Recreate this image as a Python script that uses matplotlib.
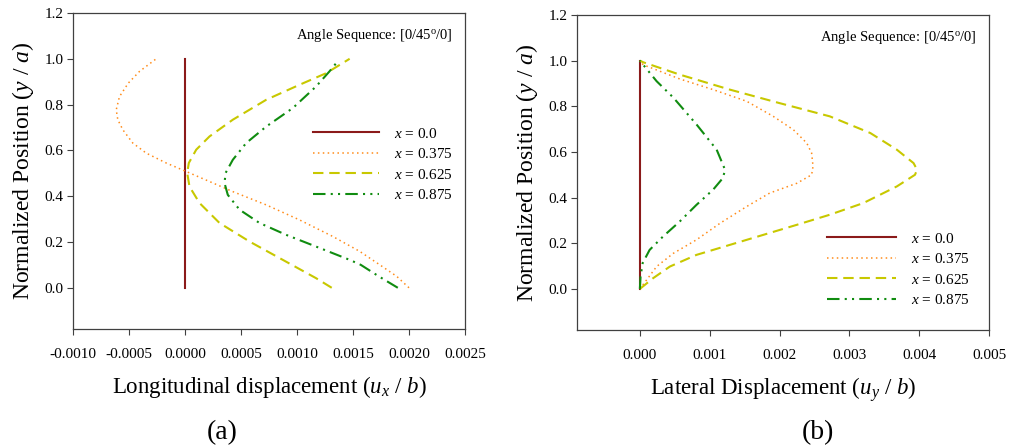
import matplotlib
matplotlib.use("Agg")
import matplotlib.pyplot as plt
import numpy as np

plt.rcParams['font.family'] = ['Liberation Serif', 'DejaVu Serif']
plt.rcParams['mathtext.fontset'] = 'custom'
plt.rcParams['mathtext.rm'] = 'Liberation Serif'
plt.rcParams['mathtext.it'] = 'Liberation Serif:italic'

# ---------------- data ----------------
series_labels = [r'$x$ = 0.0', r'$x$ = 0.375', r'$x$ = 0.625', r'$x$ = 0.875']

# panel (a): longitudinal displacement
a_y0 = [0.0, 1.0]
a_x0 = [0.0, 0.0]

a_y1 = [0.0, 0.05, 0.1, 0.159, 0.224, 0.297, 0.362, 0.42, 0.464, 0.508, 0.545, 0.588,
        0.632, 0.69, 0.734, 0.777, 0.835, 0.894, 0.945, 1.0]
a_x1 = [0.0020, 0.00189, 0.00174, 0.00156, 0.00132, 0.00102, 0.000725, 0.000427,
        0.000219, 0.00001, -0.000168, -0.000346, -0.000466, -0.000555, -0.0006,
        -0.000614, -0.000585, -0.000506, -0.000406, -0.000257]

a_y2 = [0.0, 0.042, 0.122, 0.202, 0.283, 0.37, 0.442, 0.501, 0.545, 0.603, 0.661,
        0.734, 0.821, 0.886, 0.937, 1.0]
a_x2 = [0.00131, 0.00117, 0.000873, 0.000576, 0.000308, 0.00013, 0.00004, 0.00002,
        0.000034, 0.0001, 0.000219, 0.000427, 0.000725, 0.00102, 0.00126, 0.00147]

a_y3 = [0.0, 0.05, 0.1, 0.122, 0.18, 0.231, 0.283, 0.341, 0.406, 0.457, 0.501, 0.559,
        0.632, 0.704, 0.785, 0.879, 0.945, 0.984]
a_x3 = [0.0019, 0.00173, 0.00157, 0.00147, 0.00117, 0.000904, 0.000665, 0.000487,
        0.000382, 0.000353, 0.000362, 0.000427, 0.000546, 0.000725, 0.000963,
        0.00117, 0.00129, 0.001355]

# panel (b): lateral displacement
b_y0 = [0.0, 1.0]
b_x0 = [0.0, 0.0]

b_y1 = [0.0, 0.039, 0.098, 0.156, 0.215, 0.288, 0.361, 0.42, 0.463, 0.5, 0.537, 0.595,
        0.639, 0.697, 0.756, 0.822, 0.873, 0.92, 0.982, 1.0]
b_x1 = [0.0, 0.000096, 0.00024, 0.00048, 0.00081, 0.00115, 0.00153, 0.00186, 0.00225,
        0.00246, 0.00248, 0.00246, 0.00239, 0.0022, 0.00191, 0.00153, 0.00105, 0.00057,
        0.000048, 0.0]

b_y2 = [0.0, 0.047, 0.098, 0.149, 0.193, 0.237, 0.281, 0.325, 0.376, 0.449, 0.5, 0.522,
        0.551, 0.61, 0.683, 0.756, 0.814, 0.873, 0.939, 0.993, 1.0]
b_x2 = [0.0, 0.00019, 0.00043, 0.00081, 0.00129, 0.00177, 0.00225, 0.00272, 0.0032,
        0.00368, 0.00394, 0.00397, 0.00392, 0.00368, 0.0033, 0.00272, 0.002, 0.00129,
        0.00057, 0.000048, 0.0]

b_y3 = [0.0, 0.054, 0.113, 0.171, 0.229, 0.295, 0.368, 0.435, 0.486, 0.522, 0.61, 0.721,
        0.838, 0.91, 0.982, 1.0]
b_x3 = [0.0, 0.00001, 0.00004, 0.00014, 0.00033, 0.00057, 0.00081, 0.00105, 0.00119,
        0.00122, 0.0011, 0.00081, 0.00048, 0.00024, 0.000048, 0.0]

a_xticks = [-0.0010, -0.0005, 0.0, 0.0005, 0.0010, 0.0015, 0.0020, 0.0025]
b_xticks = [0.000, 0.001, 0.002, 0.003, 0.004, 0.005]
yticks = [0.0, 0.2, 0.4, 0.6, 0.8, 1.0, 1.2]

# ---------------- styles ----------------
colors = ['#8B1A1A', '#FF8C1A', '#C8C800', '#108C10']
styles = ['-', (0, (1, 2.2)), (0, (5, 2.8)), (0, (6, 2.5, 1, 2.5, 1, 2.5))]
widths = [1.5, 1.1, 1.5, 1.5]

fig = plt.figure(figsize=(10.11, 4.48), dpi=100)
axa = fig.add_axes([73/1011, 1 - 329/448, 392/1011, 316/448])
axb = fig.add_axes([577/1011, 1 - 330/448, 412/1011, 315/448])

def style_axes(ax, xticks, xlim, fmt):
    ax.set_xlim(*xlim)
    ax.set_ylim(-0.18, 1.2)
    ax.set_xticks(xticks)
    ax.set_xticklabels([fmt.format(t) for t in xticks])
    ax.set_yticks(yticks)
    ax.set_yticklabels(['{:.1f}'.format(t) for t in yticks])
    ax.tick_params(direction='out', length=4, width=0.8, labelsize=11,
                   top=False, right=False, color='#404040', pad=10)
    ax.tick_params(axis='y', pad=3)
    for s in ax.spines.values():
        s.set_color('#404040')
        s.set_linewidth(0.9)
    ax.set_ylabel(r'Normalized Position ($y$ / $a$)', fontsize=17, labelpad=6)
    ax.text(0.97, 0.955, r'Angle Sequence: [0/45$^{\rm o}$/0]', transform=ax.transAxes,
            ha='right', va='top', fontsize=10.5)

a_data = [(a_x0, a_y0), (a_x1, a_y1), (a_x2, a_y2), (a_x3, a_y3)]
b_data = [(b_x0, b_y0), (b_x1, b_y1), (b_x2, b_y2), (b_x3, b_y3)]

for ax, data in ((axa, a_data), (axb, b_data)):
    for (xs, ys), c, ls, lw, lab in zip(data, colors, styles, widths, series_labels):
        ax.plot(xs, ys, color=c, linestyle=ls, linewidth=lw, label=lab)

style_axes(axa, a_xticks, (-0.0010, 0.0025), '{:.4f}')
style_axes(axb, b_xticks, (-0.0009, 0.005), '{:.3f}')

axa.set_xlabel(r'Longitudinal displacement ($u_x$ / $b$)', fontsize=16.5, labelpad=9)
axb.set_xlabel(r'Lateral Displacement ($u_y$ / $b$)', fontsize=16.5, labelpad=9)

axa.legend(loc='upper left', bbox_to_anchor=(0.612, 0.64), frameon=False, fontsize=11,
           handlelength=4.3, handletextpad=1.0, labelspacing=0.42, borderpad=0,
           borderaxespad=0)
axb.legend(loc='upper left', bbox_to_anchor=(0.607, 0.312), frameon=False, fontsize=11,
           handlelength=4.5, handletextpad=1.0, labelspacing=0.42, borderpad=0,
           borderaxespad=0)

fig.text(222/1011, 1 - 433/448, '(a)', ha='center', va='center', fontsize=20)
fig.text(818/1011, 1 - 433/448, '(b)', ha='center', va='center', fontsize=20)

fig.savefig('out.png', dpi=100, facecolor='white')
